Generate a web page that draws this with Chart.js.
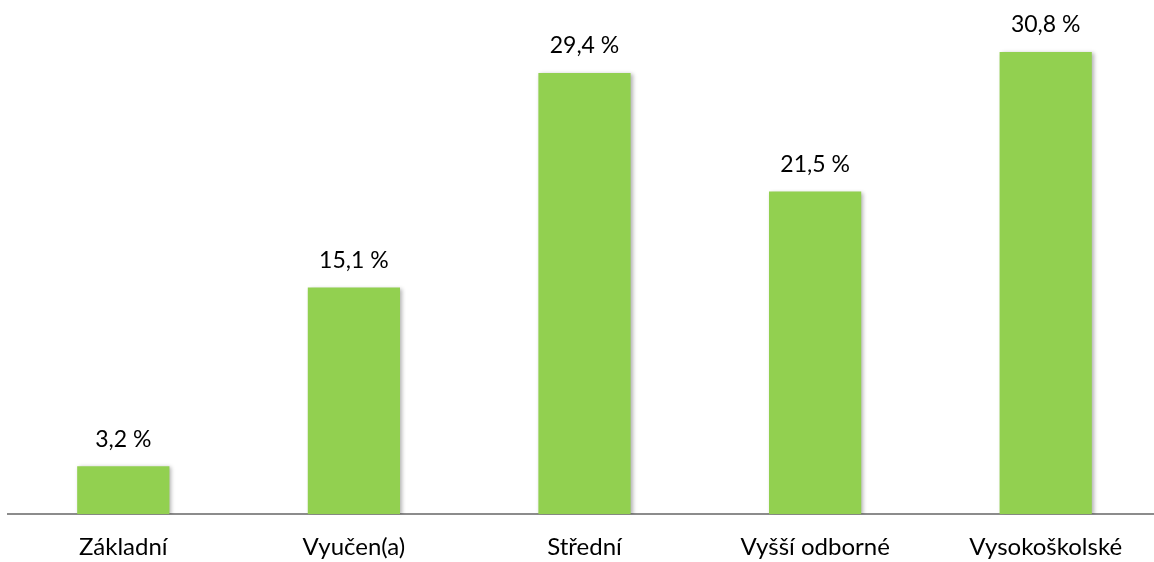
<!DOCTYPE html>
<html>
<head>
<meta charset="utf-8">
<script src="https://cdn.jsdelivr.net/npm/chart.js@4.4.1/dist/chart.umd.min.js"></script>
<style>
  html, body { margin: 0; padding: 0; background: #fff; overflow: hidden; }
</style>
</head>
<body>
<canvas id="eduChart" width="1161" height="573"></canvas>
<script>
// Education levels and their shares (%)
const categories = ['Základní', 'Vyučen(a)', 'Střední', 'Vyšší odborné', 'Vysokoškolské'];
const shares = [3.2, 15.1, 29.4, 21.5, 30.8];

const FONT = 'Lato, "Open Sans", sans-serif';

// Draws the "xx,x %" value above each bar
const valueLabels = {
  id: 'valueLabels',
  afterDatasetsDraw(chart) {
    const ctx = chart.ctx;
    const meta = chart.getDatasetMeta(0);
    ctx.save();
    ctx.fillStyle = '#000';
    ctx.font = '23px ' + FONT;
    ctx.textAlign = 'center';
    ctx.textBaseline = 'middle';
    meta.data.forEach((bar, i) => {
      const txt = shares[i].toFixed(1).replace('.', ',') + ' %';
      ctx.fillText(txt, bar.x, bar.y - 27);
    });
    ctx.restore();
  }
};

// Soft shadow behind the bars
const barShadow = {
  id: 'barShadow',
  beforeDatasetsDraw(chart) {
    const ctx = chart.ctx;
    ctx.save();
    ctx.shadowColor = 'rgba(0, 0, 0, 0.3)';
    ctx.shadowBlur = 4;
    ctx.shadowOffsetX = 2;
    ctx.shadowOffsetY = 1;
  },
  afterDatasetsDraw(chart) {
    chart.ctx.restore();
  }
};

const ctx = document.getElementById('eduChart').getContext('2d');
new Chart(ctx, {
  type: 'bar',
  data: {
    labels: categories,
    datasets: [{
      data: shares,
      backgroundColor: '#92D050',
      borderWidth: 0,
      barPercentage: 0.4,
      categoryPercentage: 1
    }]
  },
  options: {
    responsive: false,
    animation: false,
    layout: { padding: { top: 4, left: 8, right: 0, bottom: 0 } },
    plugins: {
      legend: { display: false },
      tooltip: { enabled: false }
    },
    scales: {
      x: {
        grid: { display: false },
        border: { display: true, color: '#8c8c8c', width: 2 },
        ticks: {
          color: '#000',
          padding: 11,
          font: { family: FONT, size: 24 }
        }
      },
      y: {
        display: false,
        min: 0,
        max: 34
      }
    }
  },
  plugins: [barShadow, valueLabels]
});
</script>
</body>
</html>
